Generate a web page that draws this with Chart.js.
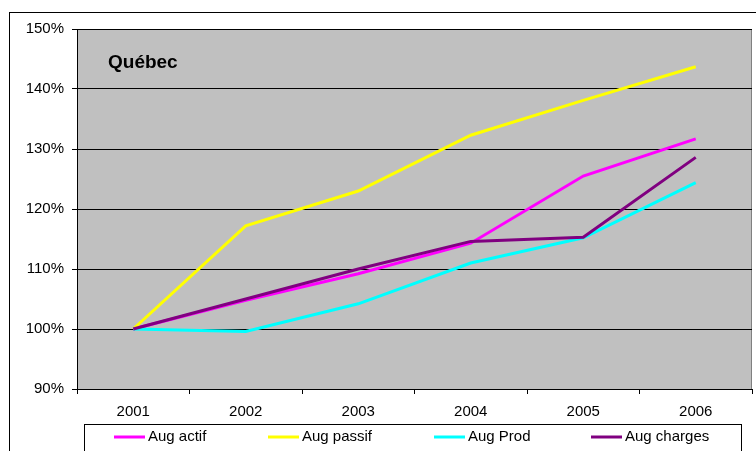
<!DOCTYPE html>
<html>
<head>
<meta charset="utf-8">
<script src="https://cdn.jsdelivr.net/npm/chart.js@4/dist/chart.umd.min.js"></script>
<style>
  html, body { margin: 0; padding: 0; background: #fff; }
  #wrap { width: 756px; height: 451px; }
</style>
</head>
<body>
<div id="wrap"><canvas id="c" width="756" height="451"></canvas></div>
<script>
// Years on the horizontal axis
const categories = ['2001', '2002', '2003', '2004', '2005', '2006'];

// Growth indices (2001 = 100 %)
const augActif   = [100, 104.8, 109.2, 114.3, 125.5, 131.7];
const augPassif  = [100, 117.2, 123.0, 132.3, 138.1, 143.7];
const augProd    = [100,  99.6, 104.2, 111.0, 115.2, 124.4];
const augCharges = [100, 105.0, 110.0, 114.6, 115.3, 128.6];

// Vertical axis range and step, in percent
const yMin = 90;
const yMax = 150;
const yStep = 10;

const seriesNames = ['Aug actif', 'Aug passif', 'Aug Prod', 'Aug charges'];
const seriesColors = ['#FF00FF', '#FFFF00', '#00FFFF', '#800080'];
const chartTitle = 'Québec';

const FONT = '"Liberation Sans", Arial, sans-serif';
Chart.defaults.font.family = FONT;
Chart.defaults.font.size = 15;
Chart.defaults.color = '#000';

// Grey plot background, outer frame, title and boxed legend
const framePlugin = {
  id: 'frame',
  beforeDraw(chart) {
    const { ctx, chartArea: a } = chart;
    ctx.save();
    ctx.fillStyle = '#fff';
    ctx.fillRect(0, 0, chart.width, chart.height);
    ctx.fillStyle = '#C0C0C0';
    ctx.fillRect(a.left, a.top, a.right - a.left, a.bottom - a.top);
    ctx.strokeStyle = '#808080';
    ctx.lineWidth = 1;
    ctx.strokeRect(a.left + 0.5, a.top + 0.5, a.right - a.left - 1, a.bottom - a.top);
    ctx.restore();
  },
  afterDraw(chart) {
    const { ctx, chartArea: a } = chart;
    ctx.save();
    // outer frame
    ctx.strokeStyle = '#000';
    ctx.lineWidth = 1;
    ctx.strokeRect(9.5, 12.5, 760, 460);

    // title inside the plot
    ctx.fillStyle = '#000';
    ctx.font = 'bold 19px ' + FONT;
    ctx.textBaseline = 'middle';
    ctx.textAlign = 'left';
    ctx.fillText(chartTitle, a.left + 31, 63);

    // legend box
    ctx.strokeStyle = '#000';
    ctx.strokeRect(84.5, 424.5, 657, 40);
    const itemX = [114, 268, 434, 591];
    const ly = 437;
    ctx.font = '15px ' + FONT;
    chart.data.datasets.forEach((ds, i) => {
      const x = itemX[i];
      ctx.strokeStyle = ds.borderColor;
      ctx.lineWidth = 3;
      ctx.beginPath();
      ctx.moveTo(x, ly);
      ctx.lineTo(x + 31, ly);
      ctx.stroke();
      ctx.fillStyle = '#000';
      ctx.fillText(ds.label, x + 34, ly);
    });
    ctx.restore();
  }
};

const seriesData = [augActif, augPassif, augProd, augCharges];

new Chart(document.getElementById('c'), {
  type: 'line',
  data: {
    labels: categories,
    datasets: seriesData.map((vals, i) => ({
      label: seriesNames[i],
      data: vals,
      borderColor: seriesColors[i],
      backgroundColor: seriesColors[i],
      borderWidth: 3,
      pointRadius: 0,
      tension: 0,
      fill: false,
      order: seriesData.length - i
    }))
  },
  options: {
    responsive: false,
    animation: false,
    layout: { padding: { top: 29, right: 4, bottom: 0, left: 0 } },
    plugins: {
      legend: { display: false },
      tooltip: { enabled: false }
    },
    scales: {
      x: {
        type: 'category',
        offset: true,
        grid: {
          offset: true,
          drawOnChartArea: false,
          drawTicks: true,
          tickLength: 5,
          tickColor: '#000'
        },
        border: { color: '#000', width: 1 },
        ticks: { padding: 9, maxRotation: 0, font: { size: 15 } },
        afterFit(s) { s.height = 62; }
      },
      y: {
        min: yMin,
        max: yMax,
        grid: {
          color: '#000',
          tickColor: '#000',
          tickLength: 5,
          drawTicks: true
        },
        border: { color: '#000', width: 1 },
        ticks: {
          stepSize: yStep,
          padding: 8,
          font: { size: 15 },
          callback: v => v + '%'
        },
        afterFit(s) { s.width = 77; }
      }
    }
  },
  plugins: [framePlugin]
});
</script>
</body>
</html>
